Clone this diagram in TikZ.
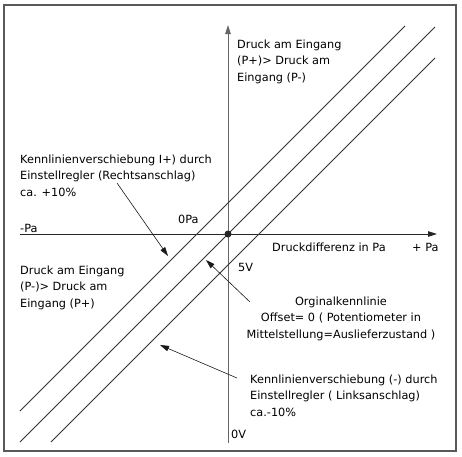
\documentclass[tikz,border=0pt]{standalone}
\usepackage{fontspec}
\setmainfont{DejaVu Sans}
\usetikzlibrary{arrows.meta}
\tikzset{
  lbl/.style={inner sep=0pt, font=\fontsize{11.3}{16.8}\selectfont, text=black},
  kline/.style={line width=0.75pt, draw=black!80},
  axis/.style={line width=0.9pt},
  pointer/.style={line width=0.6pt, draw=black!90, -{Triangle[length=9pt,width=5.5pt]}},
}
\begin{document}
\begin{tikzpicture}[x=1pt,y=-1pt]
\useasboundingbox (0,0) rectangle (462,456);
\fill[white] (0,0) rectangle (462,456);
\draw[line width=1.2pt, draw=black!65] (4,5) rectangle (456,451);

% axes
\coordinate (ybot) at (228,443);
\coordinate (ytop) at (228,25);
\coordinate (xleft) at (20,234);
\coordinate (xright) at (437,234);
\draw[axis, draw=black!60, -{Triangle[length=9pt,width=5.5pt]}] (ybot) -- (ytop);
\draw[axis, draw=black!85, -{Triangle[length=9pt,width=5.5pt]}] (xleft) -- (xright);

% characteristic lines
\coordinate (la) at (20,411);  \coordinate (lb) at (405,26);
\coordinate (ma) at (20,442);  \coordinate (mb) at (435,27);
\coordinate (ra) at (51,442);  \coordinate (rb) at (435,58);
\draw[kline] (la) -- (lb);
\draw[kline] (ma) -- (mb);
\draw[kline] (ra) -- (rb);

\node[circle, fill=black!85, inner sep=0pt, minimum size=7pt] (origin) at (228,234) {};

% labels
\node[lbl, anchor=north west, align=left] (top) at (237,39.4)
  {Druck am Eingang\\(P+)> Druck am\\Eingang (P-)};
\node[lbl, anchor=north west, align=left] (plus) at (20,154.4)
  {Kennlinienverschiebung I+) durch\\Einstellregler (Rechtsanschlag)\\ca. +10\%};
\node[lbl, anchor=base west] (zeroPa) at (178,223.5) {0Pa};
\node[lbl, anchor=base west] (minusPa) at (20,232) {-Pa};
\node[lbl, anchor=base west] (xlab) at (272,251) {Druckdifferenz in Pa};
\node[lbl, anchor=base west] (plusPa) at (412,251) {+ Pa};
\node[lbl, anchor=base west] (fiveV) at (238,271) {5V};
\node[lbl, anchor=north west, align=left] (bottom) at (20,265.4)
  {Druck am Eingang\\(P-)> Druck am\\Eingang (P+)};
\node[lbl, anchor=north, align=center] (orig) at (341,296.4)
  {Orginalkennlinie\\Offset= 0 ( Potentiometer in\\Mittelstellung=Auslieferzustand )};
\node[lbl, anchor=north west, align=left] (minus) at (250,374.4)
  {Kennlinienverschiebung (-) durch\\Einstellregler ( Linksanschlag)\\ca.-10\%};
\node[lbl, anchor=base west] (zeroV) at (231,438) {0V};

% pointers
\coordinate (p1s) at (117,183); \coordinate (p1e) at (168,256);
\coordinate (p2s) at (250,302); \coordinate (p2e) at (206,260);
\coordinate (p3s) at (237,378); \coordinate (p3e) at (160,345);
\draw[pointer] (p1s) -- (p1e);
\draw[pointer] (p2s) -- (p2e);
\draw[pointer] (p3s) -- (p3e);
\end{tikzpicture}
\end{document}
